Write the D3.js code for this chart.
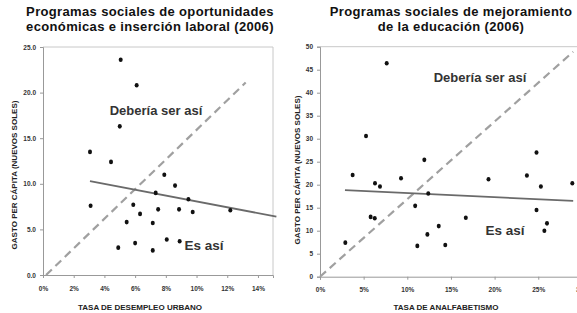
<!DOCTYPE html>
<html>
    <head>
        <meta charset="utf-8">
        <title>Gasto per cápita</title>
        <script src="https://d3js.org/d3.v7.min.js"></script>
        <style>
            body { margin: 0; background: #fff; }
            svg { display: block; font-family: "Liberation Sans", Arial, sans-serif; }
            .title { font-size: 13px; font-weight: bold; fill: #111; letter-spacing: 0.35px; }
            .tick text { font-family: "Liberation Sans Narrow", "Liberation Sans", sans-serif; font-size: 6.5px; font-weight: bold; fill: #333; }
            .axis-title { font-size: 8px; font-weight: bold; fill: #222; }
            .note { font-weight: bold; fill: #333; }
        </style>
    </head>
    <body>
        <svg id="chart"></svg>
        <script>
            // panel 1: desempleo urbano (%), gasto per capita
            const desempleo = [5.06, 6.1, 5.0, 3.06, 4.43, 7.9, 8.6, 7.34, 9.47, 3.1, 5.88, 7.5, 8.86, 9.75, 12.2, 6.32, 5.45, 7.15, 6.0, 8.06, 8.9, 4.9, 7.15];
            const gastoEmpleo = [23.6, 20.8, 16.3, 13.5, 12.4, 11.0, 9.8, 9.0, 8.3, 7.6, 7.7, 7.2, 7.2, 6.9, 7.1, 6.7, 5.8, 5.7, 3.5, 3.9, 3.7, 3.0, 2.7];
            const tendenciaEmpleo = [[3.06, 10.3], [15.2, 6.4]];
            const diagonalEmpleo = [[0.2, 0], [13.2, 21.1]];
            const ticksX1 = [0, 2, 4, 6, 8, 10, 12, 14];
            const ticksY1 = [0, 5, 10, 15, 20, 25];

            // panel 2: analfabetismo (%), gasto per capita
            const analfabetismo = [7.64, 5.27, 3.74, 6.3, 6.87, 9.28, 11.95, 19.3, 23.7, 24.8, 25.3, 28.9, 12.4, 10.9, 5.8, 6.27, 16.7, 13.6, 12.3, 11.15, 14.35, 2.9, 24.8, 26.0, 25.7];
            const gastoEducacion = [46.4, 30.6, 22.1, 20.3, 19.6, 21.4, 25.4, 21.2, 22.0, 27.0, 19.6, 20.3, 18.1, 15.4, 13.0, 12.7, 12.8, 11.0, 9.2, 6.7, 6.9, 7.4, 14.5, 11.6, 10.0];
            const tendenciaEducacion = [[2.86, 18.8], [29.0, 16.5]];
            const diagonalEducacion = [[0, 0], [29.0, 48.9]];
            const ticksX2 = [0, 5, 10, 15, 20, 25, 30];
            const ticksY2 = [0, 5, 10, 15, 20, 25, 30, 35, 40, 45, 50];

            const width = 577;
            const height = 313;

            const svg = d3.select("#chart")
                .attr("width", width)
                .attr("height", height);

            function drawPanel(cfg) {
                const g = svg.append("g");

                const x = d3.scaleLinear().domain(cfg.xDomain).range([cfg.left, cfg.right]);
                const y = d3.scaleLinear().domain(cfg.yDomain).range([cfg.bottom, cfg.top]);

                // frame (top + right)
                g.append("path")
                    .attr("d", `M${cfg.left},${cfg.top}H${cfg.right}V${cfg.bottom}`)
                    .attr("fill", "none")
                    .attr("stroke", "#c8c8c8")
                    .attr("stroke-width", 1);

                g.append("g")
                    .attr("transform", `translate(0,${cfg.bottom})`)
                    .call(d3.axisBottom(x).tickValues(cfg.ticksX).tickSize(3).tickPadding(8).tickFormat(d => d + "%"))
                    .call(a => a.select(".domain").attr("stroke", "#999"))
                    .call(a => a.selectAll(".tick line").attr("stroke", "#999"));

                g.append("g")
                    .attr("transform", `translate(${cfg.left},0)`)
                    .call(d3.axisLeft(y).tickValues(cfg.ticksY).tickSize(3).tickPadding(4).tickFormat(cfg.yFormat))
                    .call(a => a.select(".domain").attr("stroke", "#999"))
                    .call(a => a.selectAll(".tick line").attr("stroke", "#999"));

                const line = d3.line().x(d => x(d[0])).y(d => y(d[1]));

                g.append("path")
                    .datum(cfg.diagonal)
                    .attr("d", line)
                    .attr("stroke", "#a0a0a0")
                    .attr("stroke-width", 2.2)
                    .attr("stroke-dasharray", "8,5")
                    .attr("fill", "none");

                g.append("path")
                    .datum(cfg.trend)
                    .attr("d", line)
                    .attr("stroke", "#6a6a6a")
                    .attr("stroke-width", 1.8)
                    .attr("fill", "none");

                g.selectAll("ellipse")
                    .data(cfg.xs.map((v, i) => [v, cfg.ys[i]]))
                    .enter()
                    .append("ellipse")
                    .attr("cx", d => x(d[0]))
                    .attr("cy", d => y(d[1]))
                    .attr("rx", 2)
                    .attr("ry", 2.3)
                    .attr("fill", "#111");

                const title = g.append("text")
                    .attr("class", "title")
                    .attr("text-anchor", "middle");
                cfg.title.forEach((t, i) => {
                    title.append("tspan")
                        .attr("x", cfg.titleX)
                        .attr("y", 16 + i * 15)
                        .text(t);
                });

                g.append("text")
                    .attr("class", "axis-title")
                    .attr("text-anchor", "middle")
                    .attr("x", cfg.xTitleX)
                    .attr("y", 310)
                    .text(cfg.xTitle);

                g.append("text")
                    .attr("class", "axis-title")
                    .attr("text-anchor", "middle")
                    .attr("transform", `translate(${cfg.yTitleX},${cfg.yTitleY}) rotate(-90)`)
                    .text("GASTO PER CÁPITA (NUEVOS SOLES)");

                g.append("text")
                    .attr("class", "note")
                    .attr("text-anchor", "middle")
                    .attr("x", cfg.should[0])
                    .attr("y", cfg.should[1])
                    .style("font-size", "13px")
                    .text("Debería ser así");

                g.append("text")
                    .attr("class", "note")
                    .attr("text-anchor", "middle")
                    .attr("x", cfg.is[0])
                    .attr("y", cfg.is[1])
                    .style("font-size", "13.5px")
                    .text("Es así");
            }

            drawPanel({
                left: 43, right: 273, top: 47, bottom: 275,
                xDomain: [0, 14.98], yDomain: [0, 25],
                ticksX: ticksX1, ticksY: ticksY1,
                yFormat: d3.format(".1f"),
                xs: desempleo, ys: gastoEmpleo,
                trend: tendenciaEmpleo, diagonal: diagonalEmpleo,
                title: ["Programas sociales de oportunidades", "económicas e inserción laboral (2006)"],
                titleX: 150,
                xTitle: "TASA DE DESEMPLEO URBANO", xTitleX: 140,
                yTitleX: 17, yTitleY: 175,
                should: [156, 115], is: [204, 250]
            });

            drawPanel({
                left: 320, right: 584, top: 46.7, bottom: 276.7,
                xDomain: [0, 30.24], yDomain: [0, 50],
                ticksX: ticksX2, ticksY: ticksY2,
                yFormat: d3.format("d"),
                xs: analfabetismo, ys: gastoEducacion,
                trend: tendenciaEducacion, diagonal: diagonalEducacion,
                title: ["Programas sociales de mejoramiento", "de la educación (2006)"],
                titleX: 451,
                xTitle: "TASA DE ANALFABETISMO", xTitleX: 446,
                yTitleX: 300, yTitleY: 170,
                should: [480, 82], is: [505, 235]
            });
        </script>
    </body>
</html>
